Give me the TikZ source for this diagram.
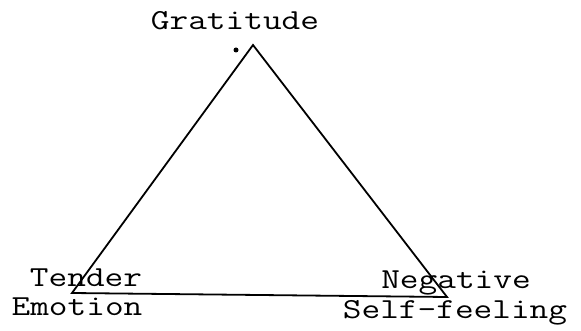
\documentclass[tikz,border=0pt]{standalone}
\usepackage{tikz}
\usetikzlibrary{positioning}

\newcommand{\typed}[1]{\scalebox{1.25}[1]{#1}}

\begin{document}
\begin{tikzpicture}[
    x=1pt, y=-1pt,
    term/.style={font=\ttfamily\fontsize{29}{34}\selectfont, inner sep=0pt, anchor=base},
    side/.style={line width=1.8pt, line join=miter},
    speck/.style={circle, fill=black, inner sep=0pt, minimum size=5pt}
]
\useasboundingbox (0,0) rectangle (581,331);

% Corners of the triangle
\coordinate (top) at (253,45);
\coordinate (left) at (72,293);
\coordinate (right) at (447,297);

% Triangle
\draw[side] (top) -- (left) -- (right) -- cycle;

% Labels at the corners
\node[term] (gratitude) at (235,30) {\typed{Gratitude}};
\node[speck] (mark) at (236,50) {};

\node[term] (tender) at (86,287) {\typed{Tender}};
\node[term] (emotion) at (77,315) {\typed{Emotion}};

\node[term] (negative) at (456,288) {\typed{Negative}};
\node[term] (selffeeling) at (455,318) {\typed{Self-feeling}};

\end{tikzpicture}
\end{document}
